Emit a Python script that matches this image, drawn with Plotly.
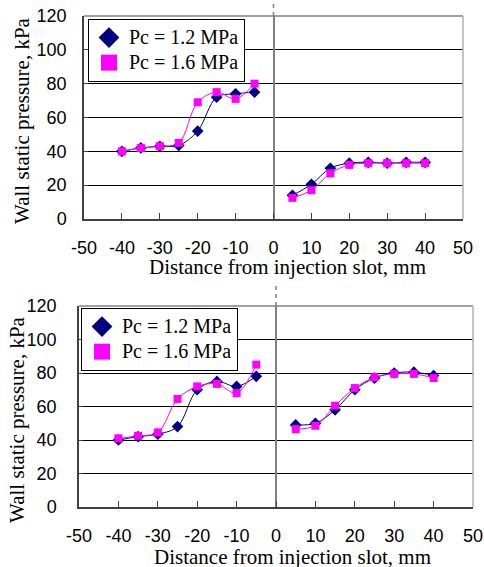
import plotly.graph_objects as go

# ---- data ----
x_left = [-40, -35, -30, -25, -20, -15, -10, -5]
x_right = [5, 10, 15, 20, 25, 30, 35, 40]

# top chart
top_p12_left = [40, 42, 43, 43.5, 52, 72, 74, 75]
top_p16_left = [40, 42, 43, 45, 69, 75, 71, 80]
top_p12_right = [14, 20.5, 30, 33, 33.5, 33, 33.5, 33.5]
top_p16_right = [12.5, 17, 27, 32, 33, 33, 33, 33]

# bottom chart
bot_p12_left = [40, 42, 43.5, 48, 70, 75, 72, 78]
bot_p16_left = [41, 42.5, 44.5, 64.5, 72, 73.5, 68, 85]
bot_p12_right = [49, 50, 58, 70, 77, 80, 80.5, 78.5]
bot_p16_right = [46.5, 48.5, 60.5, 71, 77.5, 79.5, 79.5, 77]

x_ticks = [-50, -40, -30, -20, -10, 0, 10, 20, 30, 40, 50]
x_tick_labels = ["-50", "-40", "-30", "-20", "-10", "0", "10", "20", "30", "40", "50"]
y_ticks = [0, 20, 40, 60, 80, 100, 120]
series_names = ["Pc = 1.2 MPa", "Pc = 1.6 MPa"]

NAVY = "#000080"
MAG = "#FF00FF"
W, H = 484, 567

fig = go.Figure()

def add_panel(xa, ya, legend, p12l, p16l, p12r, p16r):
    for xs, ys in ((x_left, p12l), (x_right, p12r)):
        fig.add_trace(go.Scatter(x=xs, y=ys, mode="lines+markers", xaxis=xa, yaxis=ya,
                                 line=dict(color=NAVY, width=1, shape="spline", smoothing=1),
                                 marker=dict(symbol="diamond", size=9, color=NAVY),
                                 showlegend=False))
    for xs, ys in ((x_left, p16l), (x_right, p16r)):
        fig.add_trace(go.Scatter(x=xs, y=ys, mode="lines+markers", xaxis=xa, yaxis=ya,
                                 line=dict(color=MAG, width=1, shape="spline", smoothing=1),
                                 marker=dict(symbol="square", size=8, color=MAG),
                                 showlegend=False))
    # legend entries with large symbols
    fig.add_trace(go.Scatter(x=[None], y=[None], mode="markers", xaxis=xa, yaxis=ya,
                             marker=dict(symbol="diamond", size=18, color=NAVY),
                             name='<span style="font-size:20px">' + series_names[0] + "</span>",
                             legend=legend))
    fig.add_trace(go.Scatter(x=[None], y=[None], mode="markers", xaxis=xa, yaxis=ya,
                             marker=dict(symbol="square", size=16, color=MAG),
                             name='<span style="font-size:20px">' + series_names[1] + "</span>",
                             legend=legend))

add_panel("x", "y", "legend", top_p12_left, top_p16_left, top_p12_right, top_p16_right)
add_panel("x2", "y2", "legend2", bot_p12_left, bot_p16_left, bot_p12_right, bot_p16_right)

panels = [
    # (xaxis key, yaxis key, left px, right px, top px, bottom px)
    ("xaxis", "yaxis", 84, 463, 16, 219),
    ("xaxis2", "yaxis2", 79, 473, 306, 507),
]

tick_font = dict(family="Liberation Sans, Arial", size=18, color="black")
serif = "Liberation Serif, Times New Roman"

layout = dict(width=W, height=H, margin=dict(l=0, r=0, t=0, b=0, autoexpand=False),
              paper_bgcolor="white", plot_bgcolor="white")
shapes = []
for i, (xk, yk, l, r, t, b) in enumerate(panels):
    suffix = "" if i == 0 else "2"
    layout[xk] = dict(domain=[l / W, r / W], range=[-50, 50], tickvals=x_ticks,
                      ticktext=x_tick_labels,
                      ticks="inside", ticklen=6, tickcolor="#404040",
                      showline=True, linecolor="#404040", linewidth=1.5,
                      showgrid=False, zeroline=True, zerolinecolor="#808080", zerolinewidth=1.5,
                      tickfont=tick_font, ticklabelstandoff=12, fixedrange=True,
                      automargin=False, anchor="y" + suffix)
    layout[yk] = dict(domain=[1 - b / H, 1 - t / H], range=[0, 120], tickvals=y_ticks,
                      ticks="inside", ticklen=4, tickcolor="#404040",
                      showline=True, linecolor="#404040", linewidth=1.5,
                      showgrid=True, gridcolor="black", gridwidth=1, zeroline=False,
                      tickfont=tick_font, ticklabelstandoff=12 if i == 0 else 17,
                      automargin=False, fixedrange=True, anchor="x" + suffix)
    xr = "x" + suffix + " domain"
    yr = "y" + suffix + " domain"
    shapes.append(dict(type="line", xref=xr, yref=yr, x0=0, x1=1, y0=1, y1=1,
                       line=dict(color="#808080", width=1.5)))
    shapes.append(dict(type="line", xref=xr, yref=yr, x0=1, x1=1, y0=0, y1=1,
                       line=dict(color="#b0b0b0", width=1.5)))
    # dashed continuation of the slot line above the plot
    top_px = 0 if i == 0 else 286
    shapes.append(dict(type="line", xref="x" + suffix, yref="paper", x0=0, x1=0,
                       y0=1 - t / H, y1=1 - top_px / H,
                       line=dict(color="#808080", width=1.5, dash="4px,4px")))

layout["shapes"] = shapes
legend_common = dict(font=dict(family=serif, size=17, color="black"),
                     bordercolor="black", borderwidth=1, bgcolor="white",
                     xanchor="left", yanchor="top", itemwidth=30,
                     tracegroupgap=0)
layout["legend"] = dict(x=88 / W, y=1 - 19 / H, **legend_common)
layout["legend2"] = dict(x=81 / W, y=1 - 308 / H, **legend_common)

layout["annotations"] = [
    dict(text="Distance from injection slot, mm", xref="paper", yref="paper",
         x=287 / W, y=1 - 267 / H, showarrow=False, xanchor="center", yanchor="middle",
         font=dict(family=serif, size=21, color="black")),
    dict(text="Distance from injection slot, mm", xref="paper", yref="paper",
         x=292 / W, y=1 - 557 / H, showarrow=False, xanchor="center", yanchor="middle",
         font=dict(family=serif, size=21, color="black")),
    dict(text="Wall static pressure, kPa", xref="paper", yref="paper",
         x=22 / W, y=1 - 121 / H, showarrow=False, xanchor="center", yanchor="middle",
         textangle=-90, font=dict(family=serif, size=21, color="black")),
    dict(text="Wall static pressure, kPa", xref="paper", yref="paper",
         x=17 / W, y=1 - 420 / H, showarrow=False, xanchor="center", yanchor="middle",
         textangle=-90, font=dict(family=serif, size=21, color="black")),
]

fig.update_layout(**layout)
fig.write_html("out.html", config={"displayModeBar": False},
               post_script="document.body.style.margin='0';document.body.style.overflow='hidden';")
